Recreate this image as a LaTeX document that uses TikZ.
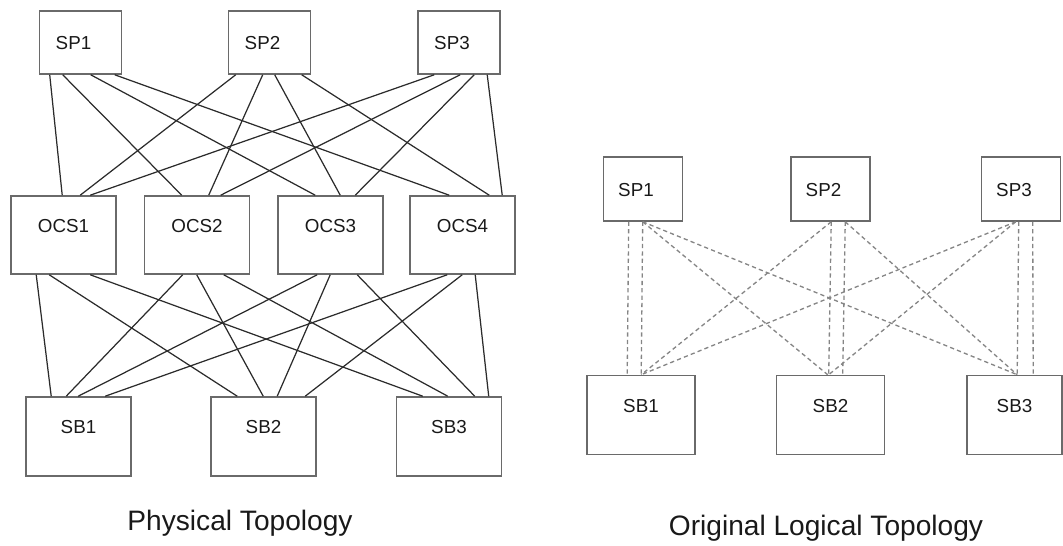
\documentclass[tikz,border=0pt]{standalone}
\usepackage{fontspec}
\setmainfont{Liberation Sans}
\usetikzlibrary{calc}

\definecolor{boxgray}{HTML}{6A6A6A}
\definecolor{linkgray}{HTML}{2B2B2B}
\definecolor{dashgray}{HTML}{858585}

\begin{document}
\begin{tikzpicture}[x=0.02cm, y=-0.02cm,
    box/.style={draw=boxgray, line width=0.9pt, inner sep=0pt, text=black!90,
      font=\fontsize{10.7}{12}\selectfont, text height=8pt, text depth=0pt},
    sp/.style={box, minimum width=1.64cm, minimum height=1.26cm,
      execute at end node={\hspace*{0.28cm}}},
    ocs/.style={box, minimum width=2.1cm, minimum height=1.56cm, text depth=0.4cm},
    sb/.style={ocs, minimum height=1.58cm},
    link/.style={draw=linkgray, line width=0.7pt},
    vlink/.style={draw=dashgray, line width=0.75pt, dash pattern=on 2.4pt off 1.8pt},
    title/.style={font=\fontsize{16}{19}\selectfont, text=black!90}]
  \useasboundingbox (0,0) rectangle (1063,546);

  \foreach \n/\x in {1/80.5, 2/269.5, 3/459}
    \node[sp] (sp\n) at (\x, 42.5) {SP\n};
  \foreach \n/\x in {1/63.5, 2/197, 3/330.5, 4/462.5}
    \node[ocs] (ocs\n) at (\x, 235) {OCS\n};
  \foreach \n/\x in {1/78.5, 2/263.5, 3/449}
    \node[sb] (sb\n) at (\x, 436.5) {SB\n};

  \foreach \i/\a/\j/\b in {1/11/1/52, 1/24/2/38, 1/52/3/38, 1/76/4/40,
                           2/8/1/70, 2/35/2/65, 2/47/3/63, 2/74/4/80,
                           3/17/1/80, 3/43/2/77, 3/57/3/78, 3/70/4/93}
    \draw[link] ($(sp\i.south west)+(\a,0)$) -- ($(ocs\j.north west)+(\b,0)$);
  \foreach \i/\a/\j/\b in {1/26/1/26, 1/39/2/27, 1/80/3/27,
                           2/39/1/41, 2/53/2/53, 2/80/3/52,
                           3/40/1/53, 3/53/2/67, 3/80/3/79,
                           4/38/1/80, 4/53/2/95, 4/66/3/93}
    \draw[link] ($(ocs\i.south west)+(\a,0)$) -- ($(sb\j.north west)+(\b,0)$);

  \node[title] (phys) at (240, 523) {Physical Topology};

  \foreach \n/\x in {1/643, 2/830.5, 3/1021}
    \node[sp, minimum width=1.58cm, minimum height=1.28cm] (lsp\n) at (\x, 189) {SP\n};
  \foreach \n/\x/\w in {1/641/2.16cm, 2/830.5/2.16cm, 3/1014.5/1.9cm}
    \node[sb, minimum width=\w] (lsb\n) at (\x, 415) {SB\n};

  \foreach \i/\a/\j/\b in {1/26/1/41, 1/40/1/55, 1/40/2/52, 1/40/3/51,
                           2/41/2/53, 2/55/2/67, 2/41/1/55, 2/55/3/51,
                           3/38/3/51, 3/52/3/67, 3/35/1/55, 3/35/2/53}
    \draw[vlink] ($(lsp\i.south west)+(\a,0)$) -- ($(lsb\j.north west)+(\b,0)$);

  \node[title] (logic) at (826, 528) {Original Logical Topology};
\end{tikzpicture}
\end{document}
